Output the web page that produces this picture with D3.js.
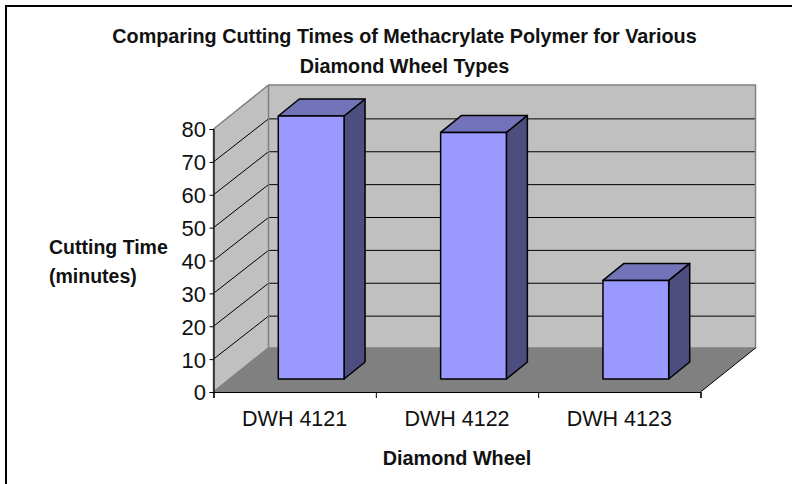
<!DOCTYPE html>
<html>
<head>
<meta charset="utf-8">
<script src="https://cdn.jsdelivr.net/npm/d3@7"></script>
<style>
body { margin: 0; background: #fff; }
text { font-family: "Liberation Sans", Arial, sans-serif; fill: #111; }
</style>
</head>
<body>
<div id="chart"></div>
<script>
"use strict"

var categories = ["DWH 4121", "DWH 4122", "DWH 4123"];
var cuttingTimes = [80, 75, 30];
var yTicks = [0, 10, 20, 30, 40, 50, 60, 70, 80];
var titleLines = ["Comparing Cutting Times of Methacrylate Polymer for Various", "Diamond Wheel Types"];
var yTitleLines = ["Cutting Time", "(minutes)"];
var xTitle = "Diamond Wheel";

var WIDTH = 792, HEIGHT = 484;
var DEPTH_X = 55, DEPTH_Y = 44, GRID_DEPTH_Y = 43;

var svg = d3.select("#chart").append("svg")
	.attr("width", WIDTH)
	.attr("height", HEIGHT)
	.style("display", "block");

// only the top and left edges of the frame fall inside the picture
svg.append("path")
	.attr("d", "M6,484V6H792")
	.attr("fill", "none")
	.attr("stroke", "#000")
	.attr("stroke-width", 2);

var x = d3.scaleBand().domain(categories).range([213.5, 700.5]).paddingInner(0.595).paddingOuter(0.2975);
var y = d3.scaleLinear().domain([0, 80]).range([392, 129]);

function pts(a) {
	return a.map(function(p) { return p.join(","); }).join(" ");
}

var x0 = x.range()[0], x1 = x.range()[1];
var y0 = y(0), yTop = y(80);

// back wall, side wall, floor
svg.append("polygon")
	.attr("points", pts([[x0 + DEPTH_X, yTop - DEPTH_Y], [x1 + DEPTH_X, yTop - DEPTH_Y], [x1 + DEPTH_X, y0 - DEPTH_Y], [x0 + DEPTH_X, y0 - DEPTH_Y]]))
	.attr("fill", "#c0c0c0");
svg.append("polygon")
	.attr("points", pts([[x0, yTop], [x0 + DEPTH_X, yTop - DEPTH_Y], [x0 + DEPTH_X, y0 - DEPTH_Y], [x0, y0]]))
	.attr("fill", "#c0c0c0");
svg.append("polygon")
	.attr("points", pts([[x0, y0], [x0 + DEPTH_X, y0 - DEPTH_Y], [x1 + DEPTH_X, y0 - DEPTH_Y], [x1, y0]]))
	.attr("fill", "#808080");

// gridlines, wall + side
svg.selectAll("path.grid").data(yTicks.slice(1, -1)).enter().append("path")
	.attr("class", "grid")
	.attr("d", function(d) {
		return "M" + x0 + "," + y(d) + "L" + (x0 + DEPTH_X) + "," + (y(d) - GRID_DEPTH_Y) + "L" + (x1 + DEPTH_X) + "," + (y(d) - GRID_DEPTH_Y);
	})
	.attr("fill", "none")
	.attr("stroke", "#000")
	.attr("stroke-width", 1);

// wall edges on top of the grid
svg.append("path")
	.attr("d", "M" + x0 + "," + y0 + "L" + x0 + "," + yTop + "L" + (x0 + DEPTH_X) + "," + (yTop - DEPTH_Y) + "L" + (x1 + DEPTH_X) + "," + (yTop - DEPTH_Y) + "L" + (x1 + DEPTH_X) + "," + (y0 - DEPTH_Y) + "L" + (x0 + DEPTH_X) + "," + (y0 - DEPTH_Y) + "Z")
	.attr("fill", "none")
	.attr("stroke", "#808080")
	.attr("stroke-width", 1.5);
svg.append("path")
	.attr("d", "M" + (x0 + DEPTH_X) + "," + (yTop - DEPTH_Y) + "L" + (x0 + DEPTH_X) + "," + (y0 - DEPTH_Y) + "L" + x0 + "," + y0)
	.attr("fill", "none")
	.attr("stroke", "#808080")
	.attr("stroke-width", 1.5);
svg.append("path")
	.attr("d", "M" + x1 + "," + y0 + "L" + (x1 + DEPTH_X) + "," + (y0 - DEPTH_Y))
	.attr("fill", "none")
	.attr("stroke", "#000")
	.attr("stroke-width", 1);

// bars
var BAR_DX = 21, BAR_DY = 17, BAR_SHIFT_X = 16.5, BAR_SHIFT_Y = 13;
var bars = svg.selectAll("g.bar").data(cuttingTimes).enter().append("g").attr("class", "bar");
function barFront(d, i) {
	var left = x(categories[i]) + BAR_SHIFT_X;
	return { l: left, r: left + x.bandwidth(), b: y(0) - BAR_SHIFT_Y, t: y(d) - BAR_SHIFT_Y };
}
bars.append("polygon")
	.attr("points", function(d, i) {
		var f = barFront(d, i);
		return pts([[f.r, f.t], [f.r + BAR_DX, f.t - BAR_DY], [f.r + BAR_DX, f.b - BAR_DY], [f.r, f.b]]);
	})
	.attr("fill", "#4d4d80");
bars.append("polygon")
	.attr("points", function(d, i) {
		var f = barFront(d, i);
		return pts([[f.l, f.t], [f.l + BAR_DX, f.t - BAR_DY], [f.r + BAR_DX, f.t - BAR_DY], [f.r, f.t]]);
	})
	.attr("fill", "#7373b9");
bars.append("rect")
	.attr("x", function(d, i) { return barFront(d, i).l; })
	.attr("y", function(d, i) { return barFront(d, i).t; })
	.attr("width", x.bandwidth())
	.attr("height", function(d, i) { var f = barFront(d, i); return f.b - f.t; })
	.attr("fill", "#9999ff");
bars.selectAll("polygon, rect")
	.attr("stroke", "#000")
	.attr("stroke-width", 1.5)
	.attr("stroke-linejoin", "round");

// axes
var yAxis = d3.axisLeft(y).tickValues(yTicks).tickSize(4).tickPadding(3.5);
var gy = svg.append("g").attr("transform", "translate(" + x0 + ",0)").call(yAxis);
gy.selectAll("text").style("font-size", "22px").attr("dy", "0.36em").style("font-family", "\"Liberation Sans\", Arial, sans-serif");
gy.select(".domain").attr("stroke-width", 1.2);

var xAxisScale = d3.scalePoint().domain(d3.range(4)).range([x0, x1]);
var xAxis = d3.axisBottom(xAxisScale).tickFormat("").tickSize(6);
svg.append("g").attr("transform", "translate(0," + y0 + ")").call(xAxis).select(".domain").attr("stroke-width", 1.2);

svg.selectAll("text.xlabel").data(categories).enter().append("text")
	.attr("class", "xlabel")
	.attr("x", function(d) { return x(d) + x.bandwidth() / 2; })
	.attr("y", 426)
	.attr("text-anchor", "middle")
	.style("font-size", "21.5px")
	.text(function(d) { return d; });

// titles
svg.selectAll("text.title").data(titleLines).enter().append("text")
	.attr("class", "title")
	.attr("x", 404.5)
	.attr("y", function(d, i) { return 43 + i * 30; })
	.attr("text-anchor", "middle")
	.style("font-size", "19.8px")
	.style("font-weight", "bold")
	.text(function(d) { return d; });
svg.selectAll("text.ytitle").data(yTitleLines).enter().append("text")
	.attr("class", "ytitle")
	.attr("x", 49)
	.attr("y", function(d, i) { return 254 + i * 29; })
	.style("font-size", "19.5px")
	.style("font-weight", "bold")
	.text(function(d) { return d; });
svg.append("text")
	.attr("x", 457)
	.attr("y", 465)
	.attr("text-anchor", "middle")
	.style("font-size", "19.8px")
	.style("font-weight", "bold")
	.text(xTitle);
</script>
</body>
</html>
